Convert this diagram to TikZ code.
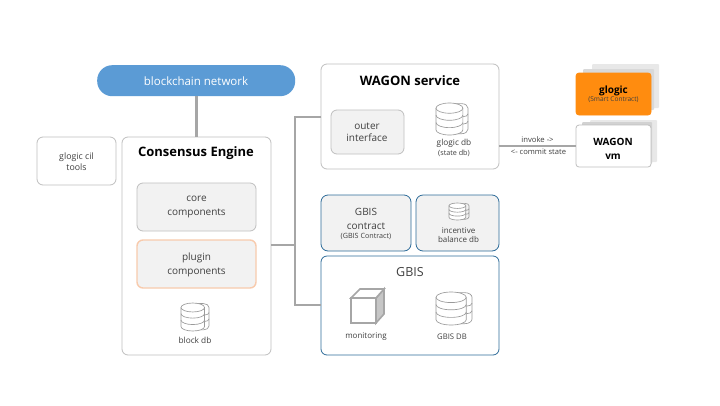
\documentclass[tikz,border=0pt]{standalone}
\usepackage{fontspec}
\setmainfont{Open Sans}
\definecolor{ln}{HTML}{A6A6A6}
\definecolor{bx}{HTML}{BFBFBF}
\definecolor{bl}{HTML}{2E6C99}
\definecolor{tx}{HTML}{404040}
\definecolor{ic}{HTML}{9A9A9A}
\definecolor{pill}{HTML}{5B9BD5}
\definecolor{soft}{HTML}{F2F2F2}
\definecolor{peach}{HTML}{F8CBAD}
\definecolor{orng}{HTML}{FF8C0F}
\newcommand{\fs}[2]{\fontsize{#1}{#2}\selectfont}
\newcommand{\dbicon}[4]{%
\begin{scope}[shift={(#1,-#2)},x=#3pt,y=#4pt,draw=ic,line width=.65pt,fill=white]
\draw (.55,-.02) -- (.8,-.02) arc[start angle=90,end angle=0,x radius=.2,y radius=.14] -- (1,-.82) arc[start angle=0,end angle=-90,x radius=.2,y radius=.14] -- (.6,-.96);
\draw (.84,-.43) arc[start angle=-90,end angle=0,x radius=.16,y radius=.09];
\draw (.84,-.66) arc[start angle=-90,end angle=0,x radius=.16,y radius=.09];
\draw[fill=white] (0,-.16) -- (0,-.84) arc[start angle=180,end angle=360,x radius=.42,y radius=.16] -- (.84,-.16);
\draw[fill=white] (.42,-.16) ellipse[x radius=.42,y radius=.16];
\draw (0,-.38) arc[start angle=180,end angle=360,x radius=.42,y radius=.16];
\draw (0,-.61) arc[start angle=180,end angle=360,x radius=.42,y radius=.16];
\end{scope}}
\tikzset{
 x=1pt,y=1pt,
 card/.style args={#1/#2/#3}{draw=#3,fill=#2,rounded corners=6pt,line width=.8pt,inner sep=0pt,outer sep=0pt,minimum width=#1pt,anchor=north west,text=tx},
 link/.style={draw=ln,line width=2.3pt},
 lbl/.style={text=tx,align=center,inner sep=0pt}
}
\begin{document}
\begin{tikzpicture}
\useasboundingbox[fill=white] (0,0) rectangle (720,-405);
% back sheets
\fill[rounded corners=1pt,gray!18] (592,-64) rectangle (659,-108);
\fill[rounded corners=1pt,gray!30] (583,-69) rectangle (654,-110);
\fill[rounded corners=1pt,gray!18] (590,-120) rectangle (657,-162);
\fill[rounded corners=1pt,gray!35] (582,-122) rectangle (652,-164);
% connectors under boxes
\coordinate (tr) at (295,-245);
\coordinate (tt) at (295,-117);
\coordinate (tb) at (295,-305);
% boxes
\node[fill=pill,rounded corners=15pt,minimum width=198pt,minimum height=31pt,inner sep=0pt,anchor=north west] (net) at (97,-65) {};
\node[card=79/white/bx,minimum height=48pt] (cli) at (37,-137) {};
\node[card=149/white/bx,minimum height=218pt] (ce) at (122,-137) {};
\node[card=119/soft/bx,minimum height=48pt] (core) at (137,-183) {};
\node[card=119/soft/peach,minimum height=48pt,line width=1.4pt] (plug) at (137,-240) {};
\node[card=178/white/bx,minimum height=105pt] (ws) at (321,-64) {};
\node[card=73/soft/bx,minimum height=44pt] (oi) at (331,-110) {};
\node[card=90/soft/bl,minimum height=56pt,rounded corners=7pt] (gc) at (321,-195) {};
\node[card=83/soft/bl,minimum height=56pt,rounded corners=7pt] (ib) at (416,-195) {};
\node[card=178/white/bl,minimum height=99pt] (gb) at (321,-256) {};
\node[card=75/orng/orng,minimum height=42pt,rounded corners=3pt] (gl) at (576,-73) {};
\node[card=75/white/bx,minimum height=42pt,rounded corners=3pt] (vm) at (576,-125) {};
\draw[link] (net.south -| ce.north) -- (ce.north);
\draw[link] (ce.east |- tr) -- (tr);
\draw[link] (ws.west |- tt) -- (tt) -- (tb) -- (gb.west |- tb);
\draw[link] (ws.east |- 0,-146) -- (vm.west |- 0,-146);
% labels
\node[lbl,text=white] (t1) at (196,-81.5) {\fs{11.5}{14}blockchain network};
\node[lbl,font=\fs{8.8}{11}] (t2) at (76.5,-161.5) {glogic cil\\tools};
\node[lbl,text=black] (t3) at (196,-153) {\fs{13}{16}\bfseries Consensus Engine};
\node[lbl,font=\fs{10}{13.5}] (t4) at (196.5,-207) {core\\components};
\node[lbl,font=\fs{10}{13.5}] (t5) at (196.5,-265) {plugin\\components};
\node[lbl] (t6) at (195,-340.5) {\fs{8.3}{10}block db};
\node[lbl,text=black] (t7) at (410,-81) {\fs{13}{16}\bfseries WAGON service};
\node[lbl,font=\fs{10}{12.5}] (t8) at (367,-132) {outer\\interface};
\node[lbl] (t9a) at (454,-143.5) {\fs{8.3}{10}glogic db};
\node[lbl] (t9b) at (454,-153) {\fs{7.2}{9}(state db)};
\node[lbl,font=\fs{10}{13.5}] (t10) at (366,-219) {GBIS\\contract};
\node[lbl] (t10b) at (366,-236) {\fs{7.2}{9}(GBIS Contract)};
\node[lbl,font=\fs{8}{8.5}] (t11) at (458.5,-235) {incentive\\balance db};
\node[lbl] (t12) at (410,-272) {\fs{12.5}{15}GBIS};
\node[lbl] (t13) at (366,-337) {\fs{8}{10}monitoring};
\node[lbl] (t14) at (452,-337) {\fs{7.7}{10}GBIS DB};
\node[lbl] (t15) at (537.5,-140) {\fs{7.7}{9}invoke ->};
\node[lbl] (t16) at (538.5,-152) {\fs{7.6}{9}<- commit state};
\node[lbl,text=black] (t17) at (613.5,-90.5) {\fs{10}{12}\bfseries glogic};
\node[lbl] (t18) at (613.5,-100) {\fs{6.6}{8}(Smart Contract)};
\node[lbl,text=black,font=\fs{10}{14}\bfseries] (t19) at (613,-149) {WAGON\\vm};
% icons
\dbicon{436}{103}{32}{32}
\dbicon{436}{292}{36}{33}
\dbicon{181}{303}{28}{28}
\dbicon{449}{203}{20}{17}
% cube
\draw[ln,line width=1.6pt,fill=white] (351,-298) rectangle (376,-323);
\draw[ln,line width=1.6pt,fill=gray!45] (376,-298) -- (384,-289) -- (384,-314) -- (376,-323) -- cycle;
\draw[ln,line width=1.6pt,fill=white] (351,-298) -- (360,-289) -- (384,-289) -- (376,-298) -- cycle;
\end{tikzpicture}
\end{document}
